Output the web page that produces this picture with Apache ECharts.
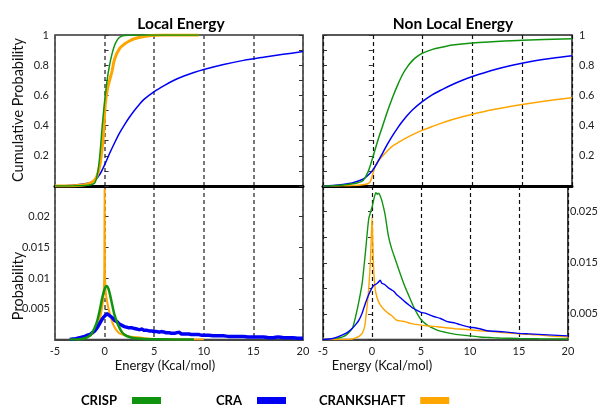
<!DOCTYPE html>
<html>
<head>
<meta charset="utf-8">
<script src="https://cdn.jsdelivr.net/npm/echarts@6/dist/echarts.min.js"></script>
<style>
  html, body { margin: 0; padding: 0; background: #fff; }
  #chart { width: 601px; height: 410px; }
</style>
</head>
<body>
<div id="chart"></div>
<script>
// ---- Local energy: cumulative distributions ----
const localCumCrispE = [-5, -3, -2, -1.5, -1, -0.75, -0.5, -0.25, 0, 0.25, 0.5, 0.75, 1, 1.25, 1.5, 2, 3, 5, 9.5];
const localCumCrispP = [0, 0.001, 0.003, 0.006, 0.02, 0.07, 0.19, 0.39, 0.56, 0.7, 0.8, 0.875, 0.93, 0.965, 0.985, 0.996, 1, 1, 1];
const localCumCraE = [-5, -4, -3, -2, -1.5, -1, -0.5, 0, 0.5, 1, 1.5, 2, 2.5, 3, 3.5, 4, 5, 6, 7, 8, 9, 10, 12, 14, 16, 18, 20];
const localCumCraP = [0, 0.002, 0.006, 0.015, 0.022, 0.035, 0.075, 0.14, 0.215, 0.285, 0.35, 0.405, 0.455, 0.5, 0.54, 0.575, 0.625, 0.665, 0.7, 0.728, 0.752, 0.772, 0.805, 0.832, 0.853, 0.872, 0.89];
const localCumCrankE = [-5, -3, -2, -1.5, -1, -0.75, -0.5, -0.25, -0.1, 0, 0.1, 0.25, 0.5, 0.75, 1, 1.5, 2, 2.5, 3, 4, 5, 6, 9.5];
const localCumCrankP = [0, 0.002, 0.008, 0.018, 0.04, 0.07, 0.13, 0.25, 0.35, 0.48, 0.56, 0.63, 0.7, 0.76, 0.84, 0.91, 0.94, 0.96, 0.975, 0.99, 0.998, 1, 1];

// ---- Non local energy: cumulative distributions ----
const nonlocalCumCrispE = [-5, -4, -3, -2, -1.5, -1, -0.5, 0, 0.5, 1, 1.5, 2, 2.5, 3, 3.5, 4, 4.5, 5, 6, 7, 8, 10, 12, 15, 20];
const nonlocalCumCrispP = [0, 0.002, 0.006, 0.015, 0.022, 0.035, 0.09, 0.19, 0.3, 0.4, 0.5, 0.59, 0.67, 0.74, 0.792, 0.832, 0.86, 0.88, 0.905, 0.92, 0.933, 0.947, 0.955, 0.965, 0.975];
const nonlocalCumCraE = [-5, -4, -3, -2, -1, -0.5, 0, 0.5, 1, 1.5, 2, 2.5, 3, 3.5, 4, 5, 6, 7, 8, 9, 10, 12, 14, 16, 18, 20];
const nonlocalCumCraP = [0, 0.003, 0.01, 0.022, 0.045, 0.07, 0.105, 0.16, 0.22, 0.28, 0.335, 0.385, 0.43, 0.47, 0.505, 0.56, 0.605, 0.64, 0.672, 0.7, 0.725, 0.767, 0.8, 0.826, 0.846, 0.862];
const nonlocalCumCrankE = [-5, -3, -2, -1, -0.5, -0.25, 0, 0.15, 0.3, 0.6, 1, 1.5, 2, 3, 4, 5, 6, 7, 8, 10, 12, 15, 17, 20];
const nonlocalCumCrankP = [0, 0.001, 0.003, 0.008, 0.015, 0.03, 0.08, 0.115, 0.14, 0.17, 0.2, 0.235, 0.265, 0.305, 0.34, 0.37, 0.395, 0.418, 0.44, 0.475, 0.505, 0.54, 0.56, 0.585];

// ---- Local energy: probability ----
const localProbCrispE = [-3.5, -2.5, -2, -1.5, -1.25, -1, -0.75, -0.5, -0.25, 0, 0.2, 0.4, 0.6, 0.8, 1, 1.25, 1.5, 1.75, 2, 2.5, 3, 4, 5, 7, 9];
const localProbCrispP = [0, 0.00005, 0.0002, 0.0006, 0.0011, 0.0019, 0.003, 0.0047, 0.0067, 0.0082, 0.0087, 0.0082, 0.0069, 0.0054, 0.004, 0.0028, 0.0019, 0.0012, 0.0008, 0.0004, 0.0002, 0.0001, 0.00005, 0.00002, 0];
const localProbCraE = [-3.5, -3.25, -3, -2.75, -2.5, -2.25, -2, -1.75, -1.5, -1.25, -1, -0.75, -0.5, -0.25, 0, 0.25, 0.5, 0.75, 1, 1.25, 1.5, 1.75, 2, 2.25, 2.5, 2.75, 3, 3.25, 3.5, 3.75, 4, 4.25, 4.5, 4.75, 5, 5.25, 5.5, 5.75, 6, 6.25, 6.5, 6.75, 7, 7.25, 7.5, 7.75, 8, 8.25, 8.5, 8.75, 9, 9.25, 9.5, 9.75, 10, 10.5, 11, 11.5, 12, 12.5, 13, 13.5, 14, 14.5, 15, 15.5, 16, 16.5, 17, 17.5, 18, 18.5, 19, 19.5, 20];
const localProbCraP = [0, 0.0001, 0.0001, 0.0002, 0.0003, 0.0004, 0.0005, 0.0007, 0.0008, 0.0011, 0.0014, 0.0019, 0.0026, 0.0033, 0.0038, 0.0042, 0.0039, 0.0036, 0.0031, 0.0029, 0.0025, 0.0023, 0.0021, 0.002, 0.0019, 0.0019, 0.0018, 0.0017, 0.0016, 0.0017, 0.0015, 0.0015, 0.0014, 0.0014, 0.0013, 0.0013, 0.0012, 0.0013, 0.0012, 0.0011, 0.0011, 0.001, 0.001, 0.0011, 0.0012, 0.0009, 0.0009, 0.0009, 0.0009, 0.0008, 0.0008, 0.0008, 0.0008, 0.0007, 0.0007, 0.0007, 0.0006, 0.0006, 0.0006, 0.0005, 0.0005, 0.0005, 0.0005, 0.0004, 0.0004, 0.0004, 0.0004, 0.0003, 0.0003, 0.0004, 0.0003, 0.0003, 0.0003, 0.0002, 0.0002];
const localProbCrankE = [-3.5, -2.5, -2, -1.5, -1, -0.75, -0.5, -0.3, -0.15, -0.08, -0.03, 0, 0.03, 0.08, 0.15, 0.25, 0.4, 0.6, 0.8, 1, 1.25, 1.5, 2, 2.5, 3, 4, 5, 6, 8, 10];
const localProbCrankP = [0, 0.0001, 0.0003, 0.0006, 0.0013, 0.002, 0.0032, 0.0048, 0.0065, 0.008, 0.011, 0.0245, 0.011, 0.0085, 0.0072, 0.0062, 0.005, 0.0038, 0.0027, 0.002, 0.0014, 0.001, 0.0007, 0.0005, 0.0004, 0.0002, 0.0001, 0.00005, 0.00002, 0];

// ---- Non local energy: probability ----
const nonlocalProbCrispE = [-5, -4, -3, -2.5, -2, -1.67, -1.33, -1, -0.67, -0.33, 0, 0.2, 0.4, 0.55, 0.7, 0.85, 1, 1.33, 1.67, 2, 2.5, 3, 3.35, 3.75, 4.2, 4.6, 5, 5.5, 6, 6.7, 7.5, 8, 9, 10, 11, 12, 13, 15, 17, 20];
const nonlocalProbCrispP = [0, 0.0001, 0.0005, 0.0011, 0.0022, 0.0045, 0.0075, 0.011, 0.017, 0.0236, 0.0258, 0.0275, 0.0287, 0.0284, 0.0286, 0.028, 0.0272, 0.0245, 0.0203, 0.0178, 0.015, 0.0122, 0.0104, 0.0086, 0.0066, 0.0051, 0.0039, 0.003, 0.0024, 0.0018, 0.0014, 0.0012, 0.0009, 0.0007, 0.0005, 0.0004, 0.0003, 0.0002, 0.00015, 0.0001];
const nonlocalProbCraE = [-5, -4, -3.5, -3, -2.5, -2, -1.67, -1.33, -1, -0.67, -0.33, 0, 0.2, 0.4, 0.6, 0.84, 1, 1.25, 1.5, 1.67, 2, 2.25, 2.5, 2.75, 3, 3.35, 3.75, 4.2, 4.6, 5, 5.5, 6, 6.3, 7, 7.7, 8.5, 9, 10, 10.5, 11, 11.8, 12.5, 13.5, 15, 16, 17, 18, 19, 20];
const nonlocalProbCraP = [0, 0.0002, 0.0005, 0.0009, 0.0014, 0.0022, 0.0029, 0.0038, 0.0052, 0.0071, 0.0088, 0.0101, 0.0106, 0.0108, 0.0111, 0.0116, 0.011, 0.0108, 0.0104, 0.0101, 0.0097, 0.0094, 0.0088, 0.0084, 0.008, 0.0074, 0.0068, 0.0061, 0.0057, 0.0053, 0.0051, 0.0047, 0.0045, 0.0041, 0.0035, 0.0032, 0.0029, 0.0024, 0.0023, 0.0021, 0.0017, 0.0016, 0.0015, 0.0012, 0.0011, 0.001, 0.0009, 0.0008, 0.0007];
const nonlocalProbCrankE = [-5, -3, -2, -1.67, -1.33, -1, -0.75, -0.5, -0.33, -0.17, -0.08, 0, 0.08, 0.17, 0.33, 0.5, 0.67, 0.9, 1.2, 1.67, 2, 2.5, 3, 3.35, 4, 5, 6, 6.7, 7.5, 8.5, 10, 11, 12, 13, 15, 16, 17, 18, 19, 20];
const nonlocalProbCrankP = [0, 0, 0.0001, 0.0003, 0.0006, 0.0012, 0.0025, 0.0065, 0.01, 0.015, 0.0195, 0.0238, 0.019, 0.0138, 0.0098, 0.0083, 0.0074, 0.0066, 0.0059, 0.0051, 0.0047, 0.0038, 0.0036, 0.0035, 0.0031, 0.0028, 0.0026, 0.0025, 0.0023, 0.0021, 0.0019, 0.0017, 0.0016, 0.0014, 0.0011, 0.001, 0.0009, 0.0007, 0.0006, 0.0005];

const energyTicks = [-5, 0, 5, 10, 15, 20];
const methodColors = { CRISP: '#109410', CRA: '#0000f5', CRANKSHAFT: '#ffa500' };

const FONT = 'Lato';
const pairs = (xs, ys) => xs.map((x, i) => [x, ys[i]]);

const chart = echarts.init(document.getElementById('chart'), null, { renderer: 'canvas' });

const gridL = { left: 55, width: 248 };
const gridR = { left: 323, width: 249 };
const topPanel = { top: 35, height: 151 };
const botPanel = { top: 186, height: 153.5 };

function xAxisFor(gridIndex, isBottom, dashColor, dashWidth) {
  return {
    type: 'value', gridIndex, min: energyTicks[0], max: energyTicks[energyTicks.length - 1], interval: 5,
    axisLine: { show: true, onZero: false, lineStyle: isBottom ? { color: '#444', width: 2 } : { color: '#000', width: 3 } },
    axisTick: { show: false },
    axisLabel: { show: isBottom, fontFamily: FONT, fontSize: 11, color: '#222', margin: 6, showMinLabel: true, showMaxLabel: true },
    splitLine: { show: true, lineStyle: { color: dashColor, width: dashWidth, type: [4, 3] } }
  };
}

function yAxisFor(gridIndex, max, position, formatter, margin) {
  return {
    type: 'value', gridIndex, min: 0, max, interval: max === 1 ? 0.1 : 0.005, position,
    axisLine: { show: false },
    axisTick: { show: true, inside: true, length: 4, lineStyle: { color: '#333', width: 1 } },
    axisLabel: formatter ? { show: true, formatter, fontFamily: FONT, fontSize: 11, color: '#222', margin } : { show: false },
    splitLine: { show: false }
  };
}

const cumLabel = v => { const r = Math.round(v * 10); return (r > 0 && r % 2 === 0) ? (r === 10 ? '1' : '0.' + r) : ''; };
const probLabelL = v => { const r = Math.round(v * 1000); return (r > 0 && r < 25) ? String(r / 1000) : ''; };
const probLabelR = v => { const r = Math.round(v * 1000); return (r % 10 === 5) ? String(r / 1000) : ''; };

function line(name, xi, yi, xs, ys, width, smooth) {
  return {
    name, type: 'line', xAxisIndex: xi, yAxisIndex: yi,
    data: pairs(xs, ys), showSymbol: false, symbol: 'none',
    smooth: smooth, animation: false,
    lineStyle: { color: methodColors[name], width },
    itemStyle: { color: methodColors[name] }
  };
}

function legendFor(name, left) {
  return {
    data: [name], left, top: 394, orient: 'horizontal', align: 'right', padding: 0,
    icon: 'rect', itemWidth: 29, itemHeight: 7, selectedMode: false,
    itemStyle: { color: methodColors[name] },
    textStyle: { fontFamily: FONT, fontSize: 13, fontWeight: 'bold', color: '#000', padding: [0, 10, 0, 0] }
  };
}

const titleStyle = { fontFamily: FONT, fontSize: 15.5, fontWeight: 'bold', color: '#000' };
const nameStyle = { fontFamily: FONT, fontSize: 14.5, fill: '#111', textAlign: 'center', textVerticalAlign: 'middle' };

const option = {
  backgroundColor: '#fff',
  animation: false,
  title: [
    { text: 'Local Energy', left: 176, top: 11, textAlign: 'center', textStyle: titleStyle },
    { text: 'Non Local Energy', left: 448, top: 11, textAlign: 'center', textStyle: titleStyle }
  ],
  legend: [legendFor('CRISP', 81), legendFor('CRA', 216), legendFor('CRANKSHAFT', 319)],
  grid: [
    Object.assign({ show: true, borderColor: '#333', borderWidth: 1.5 }, gridL, topPanel),
    Object.assign({ show: true, borderColor: '#333', borderWidth: 1.5 }, gridL, botPanel),
    Object.assign({ show: true, borderColor: '#222', borderWidth: 1.5 }, gridR, topPanel),
    Object.assign({ show: true, borderColor: '#222', borderWidth: 1.5 }, gridR, botPanel)
  ],
  xAxis: [
    xAxisFor(0, false, '#555', 1.6),
    xAxisFor(1, true, '#555', 1.6),
    xAxisFor(2, false, '#111', 1.2),
    xAxisFor(3, true, '#111', 1.2)
  ],
  yAxis: [
    yAxisFor(0, 1, 'left', cumLabel, 6),
    yAxisFor(0, 1, 'right', null),
    yAxisFor(1, 0.025, 'left', probLabelL, 5),
    yAxisFor(1, 0.025, 'right', null),
    yAxisFor(2, 1, 'right', cumLabel, 7),
    yAxisFor(2, 1, 'left', null),
    yAxisFor(3, 0.03, 'right', probLabelR, 2),
    yAxisFor(3, 0.03, 'left', null)
  ],
  graphic: [
    { type: 'text', x: 18, y: 110, rotation: Math.PI / 2, style: Object.assign({ text: 'Cumulative Probability' }, nameStyle) },
    { type: 'text', x: 18, y: 286, rotation: Math.PI / 2, style: Object.assign({ text: 'Probability' }, nameStyle) },
    { type: 'text', x: 165, y: 366, style: Object.assign({ text: 'Energy (Kcal/mol)' }, nameStyle, { fontSize: 13 }) },
    { type: 'text', x: 382, y: 366, style: Object.assign({ text: 'Energy (Kcal/mol)' }, nameStyle, { fontSize: 13 }) }
  ],
  series: [
    // local cumulative
    line('CRA', 0, 0, localCumCraE, localCumCraP, 1.5, 0.3),
    line('CRANKSHAFT', 0, 0, localCumCrankE, localCumCrankP, 3, 0.3),
    line('CRISP', 0, 0, localCumCrispE, localCumCrispP, 1.5, 0.3),
    // local probability
    line('CRANKSHAFT', 1, 2, localProbCrankE, localProbCrankP, 2, 0.2),
    line('CRA', 1, 2, localProbCraE, localProbCraP, 3.5, 0.1),
    line('CRISP', 1, 2, localProbCrispE, localProbCrispP, 2.5, 0.3),
    // non local cumulative
    line('CRANKSHAFT', 2, 4, nonlocalCumCrankE, nonlocalCumCrankP, 1.5, 0.3),
    line('CRA', 2, 4, nonlocalCumCraE, nonlocalCumCraP, 1.5, 0.3),
    line('CRISP', 2, 4, nonlocalCumCrispE, nonlocalCumCrispP, 1.5, 0.3),
    // non local probability
    line('CRISP', 3, 6, nonlocalProbCrispE, nonlocalProbCrispP, 1.4, 0.2),
    line('CRANKSHAFT', 3, 6, nonlocalProbCrankE, nonlocalProbCrankP, 1.4, 0.2),
    line('CRA', 3, 6, nonlocalProbCraE, nonlocalProbCraP, 1.4, 0.2)
  ]
};

chart.setOption(option);
</script>
</body>
</html>
